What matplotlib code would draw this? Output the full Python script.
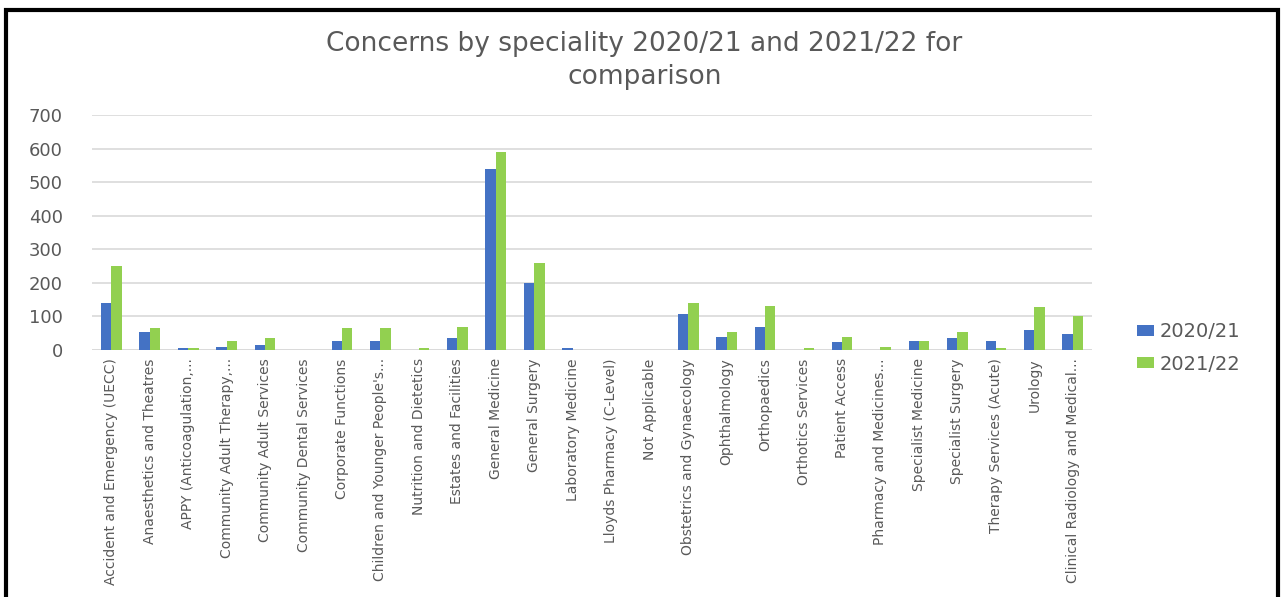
import matplotlib.pyplot as plt
import numpy as np
from matplotlib.patches import Rectangle

specialities = [
    "Accident and Emergency (UECC)",
    "Anaesthetics and Theatres",
    "APPY (Anticoagulation,...",
    "Community Adult Therapy,...",
    "Community Adult Services",
    "Community Dental Services",
    "Corporate Functions",
    "Children and Younger People's...",
    "Nutrition and Dietetics",
    "Estates and Facilities",
    "General Medicine",
    "General Surgery",
    "Laboratory Medicine",
    "Lloyds Pharmacy (C-Level)",
    "Not Applicable",
    "Obstetrics and Gynaecology",
    "Ophthalmology",
    "Orthopaedics",
    "Orthotics Services",
    "Patient Access",
    "Pharmacy and Medicines...",
    "Specialist Medicine",
    "Specialist Surgery",
    "Therapy Services (Acute)",
    "Urology",
    "Clinical Radiology and Medical...",
]

concerns_2021 = [140, 53, 5, 10, 14, 0, 28, 28, 0, 35, 538, 201, 5, 0, 0,
                 106, 40, 70, 0, 23, 0, 27, 35, 27, 61, 49]
concerns_2122 = [250, 66, 5, 27, 35, 0, 66, 66, 5, 70, 591, 258, 0, 0, 0,
                 140, 53, 131, 5, 40, 10, 27, 53, 5, 127, 101]

years = ["2020/21", "2021/22"]
blue = "#4472C4"
green = "#92D050"
grey_text = "#595959"

fig = plt.figure(figsize=(12.81, 5.97), dpi=100)
ax = fig.add_axes([0.0718, 0.4137, 0.7807, 0.3937])

x = np.arange(len(specialities))
w = 0.27
ax.bar(x - w / 2, concerns_2021, w, color=blue, label=years[0], zorder=3)
ax.bar(x + w / 2, concerns_2122, w, color=green, label=years[1], zorder=3)

ax.set_xlim(-0.5, len(specialities) - 0.5)
ax.set_ylim(0, 700)
ax.set_yticks(range(0, 701, 100))
ax.yaxis.grid(True, color="#D9D9D9", linewidth=1.2, zorder=0)
for s in ax.spines.values():
    s.set_visible(False)
ax.axhline(0, color="#D9D9D9", linewidth=1.2, zorder=2)
ax.tick_params(axis="both", length=0, colors=grey_text)
ax.tick_params(axis="y", labelsize=13, pad=21)

ax.set_xticks(x)
ax.set_xticklabels(specialities, rotation=90, fontsize=10, color=grey_text)
ax.tick_params(axis="x", pad=6)

fig.text(0.503, 0.898, "Concerns by speciality 2020/21 and 2021/22 for\ncomparison",
         ha="center", va="center", fontsize=19, color=grey_text, linespacing=1.35)

fig.legend(loc="upper left", bbox_to_anchor=(0.874, 0.49), frameon=False,
           fontsize=14, handlelength=0.85, handleheight=0.5, handletextpad=0.3,
           labelspacing=0.7, labelcolor=grey_text)

# black frame around the chart (open at the bottom)
fig.patches.append(Rectangle((6 / 1281, -0.1), 1272 / 1281, 1.1 - 9.5 / 597,
                             transform=fig.transFigure, fill=False,
                             edgecolor="black", linewidth=3, clip_on=False))

fig.savefig("out.png", dpi=100, facecolor="white")
